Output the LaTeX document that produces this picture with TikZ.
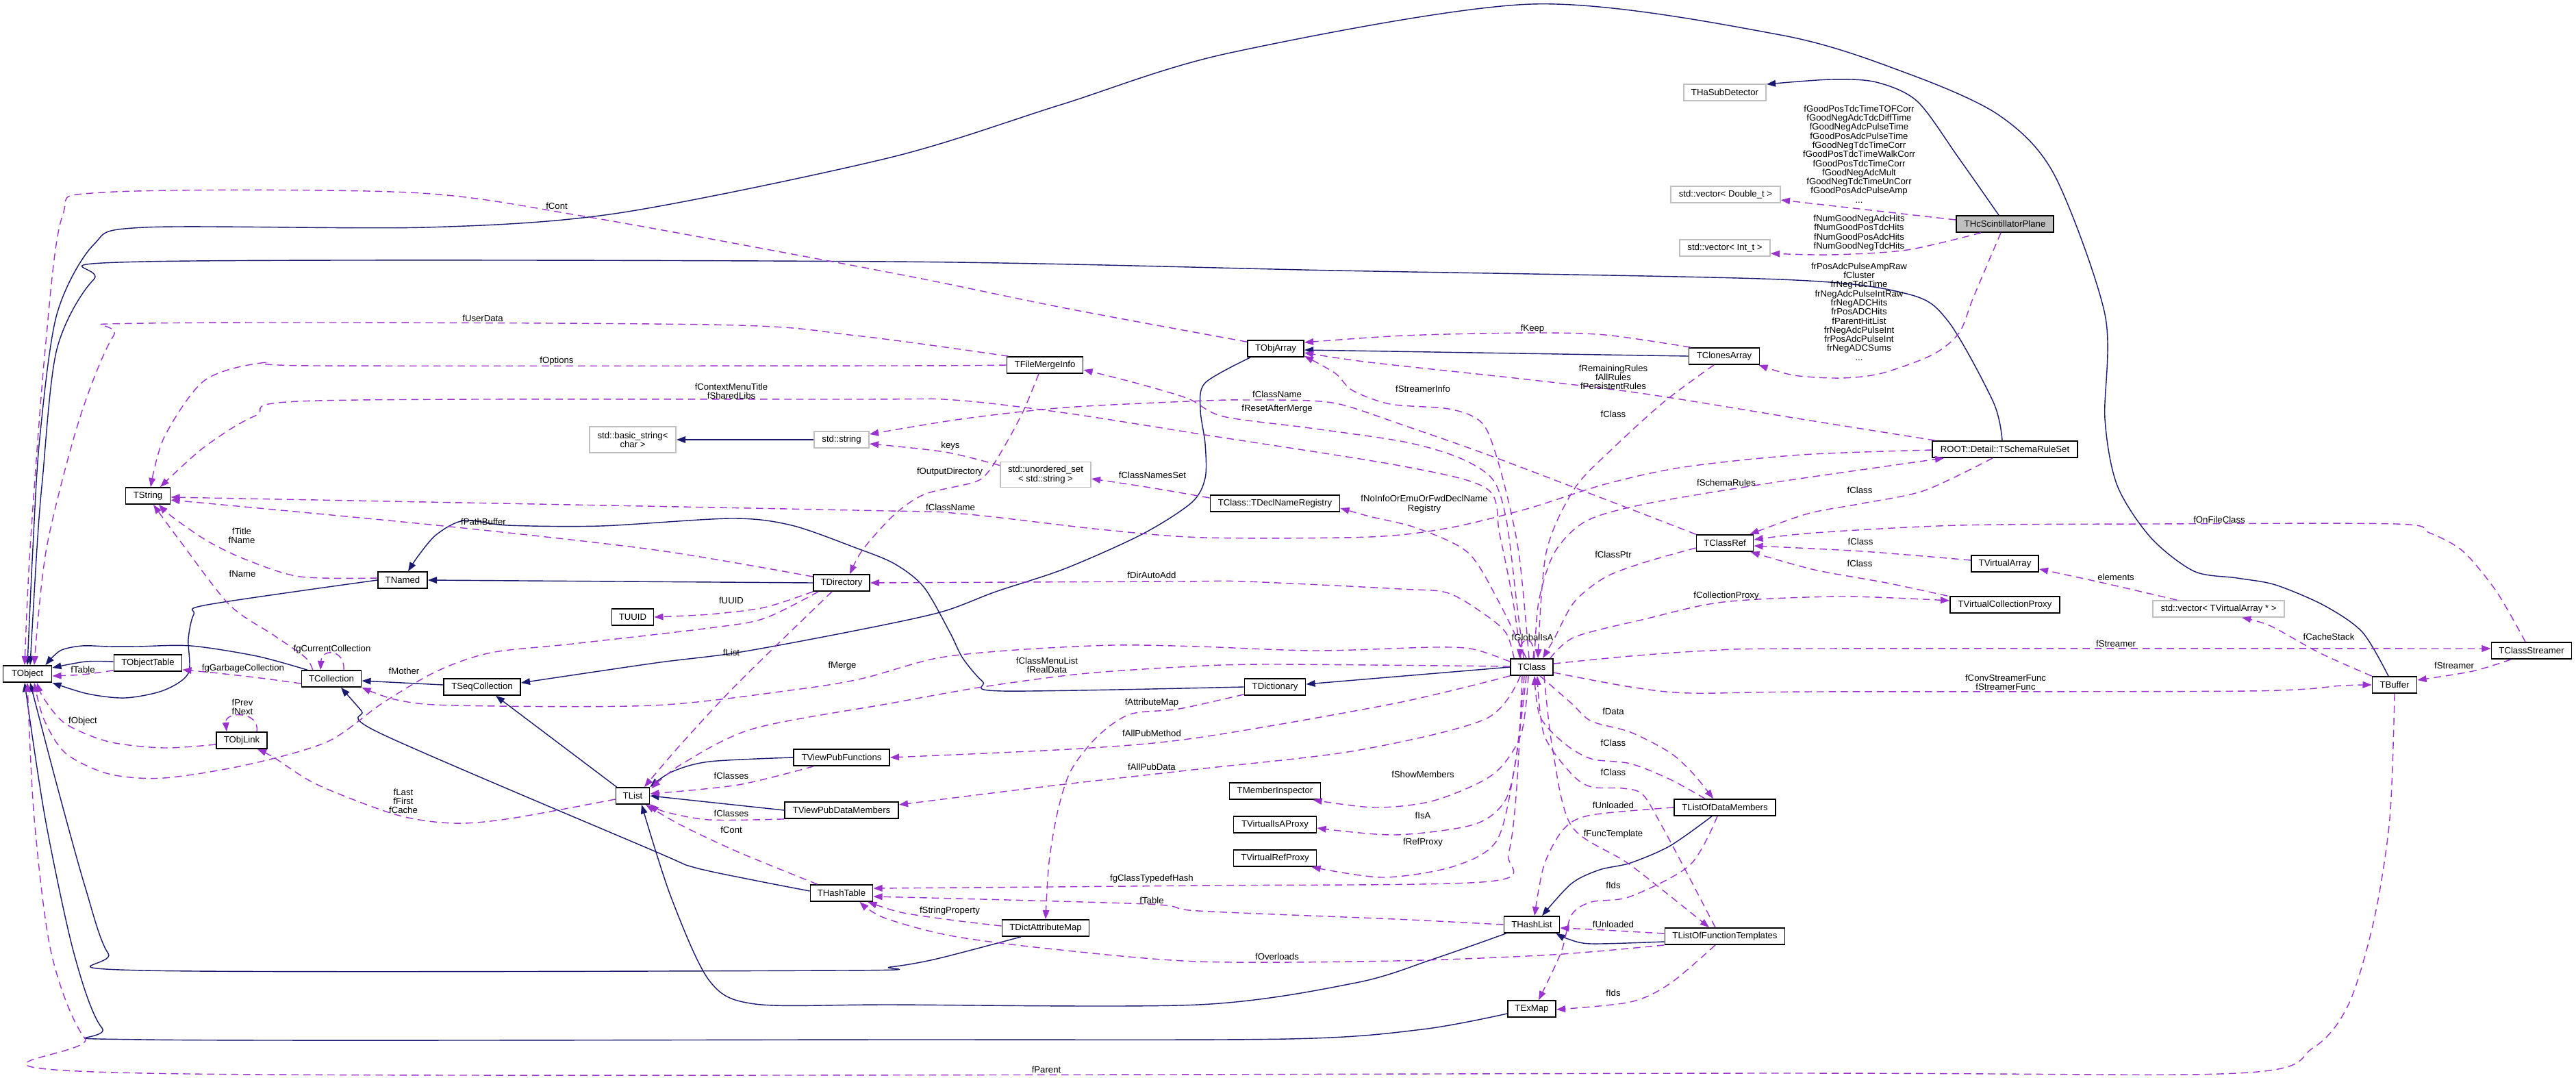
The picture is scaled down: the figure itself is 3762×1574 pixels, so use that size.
\documentclass[tikz,border=0pt]{standalone}
\usepackage{fontspec}
\setmainfont{Liberation Sans}
\usetikzlibrary{arrows.meta,calc}
\definecolor{navyc}{HTML}{191970}
\definecolor{purp}{HTML}{9A32CD}
\definecolor{lgray}{HTML}{BFBFBF}
\begin{document}
\begin{tikzpicture}[x=0.2mm,y=-0.2mm, font=\fontsize{7.5}{7.55}\selectfont,
 cls/.style={draw=black, line width=1pt, minimum height=4.8mm, inner sep=0pt, align=center},
 ext/.style={draw=lgray, line width=1pt, minimum height=4.8mm, inner sep=0pt, align=center},
 inh/.style={draw=navyc, line width=0.8pt, -{Triangle[length=7.5pt,width=5.5pt]}},
 dep/.style={draw=purp, line width=0.8pt, dash pattern=on 6pt off 4pt, -{Triangle[length=7.5pt,width=5.5pt]}},
 lbl/.style={inner sep=0pt, align=center}]
\fill[white] (0,0) rectangle (3762,1574);
\useasboundingbox (0,0) rectangle (3762,1574);
% nodes
\node[ext, minimum width=24mm] (thaSub) at (2519,135) {THaSubDetector};
\node[cls, fill=lgray, minimum width=28.4mm] (thcPlane) at (2928,327) {THcScintillatorPlane};
\node[ext, minimum width=32mm] (vecD) at (2520,284) {std::vector< Double\_t >};
\node[ext, minimum width=26.4mm] (vecI) at (2519,362) {std::vector< Int\_t >};
\node[cls, minimum width=16.4mm] (tobjarray) at (1863,509) {TObjArray};
\node[cls, minimum width=20.6mm] (tclones) at (2518,520) {TClonesArray};
\node[cls, minimum width=22.2mm] (tfmi) at (1526,533) {TFileMergeInfo};
\node[ext, minimum width=16mm] (stdstring) at (1229,642) {std::string};
\node[ext, minimum width=25.2mm, minimum height=7.6mm] (basicstr) at (924,642) {std::basic\_string<\\char >};
\node[ext, minimum width=26.4mm, minimum height=7.4mm] (uset) at (1527,693) {std::unordered\_set\\< std::string >};
\node[cls, minimum width=13mm] (tstring) at (216,724) {TString};
\node[cls, minimum width=37.8mm] (declreg) at (1862,735) {TClass::TDeclNameRegistry};
\node[cls, minimum width=42.4mm] (schema) at (2928,656) {ROOT::Detail::TSchemaRuleSet};
\node[cls, minimum width=16.6mm] (classref) at (2519,793) {TClassRef};
\node[cls, minimum width=19.6mm] (tvarray) at (2928,823) {TVirtualArray};
\node[cls, minimum width=32mm] (tvcp) at (2928,883) {TVirtualCollectionProxy};
\node[ext, minimum width=38.4mm] (vecVA) at (3240,889) {std::vector< TVirtualArray * >};
\node[cls, minimum width=23.4mm] (tcs) at (3697,950) {TClassStreamer};
\node[cls, minimum width=13mm] (tbuffer) at (3497,1000) {TBuffer};
\node[cls, minimum width=12.4mm] (tclass) at (2237,974) {TClass};
\node[cls, minimum width=17.8mm] (tdict) at (1862,1003) {TDictionary};
\node[cls, minimum width=14.4mm] (tnamed) at (588,847) {TNamed};
\node[cls, minimum width=16.4mm] (tdir) at (1229,851) {TDirectory};
\node[cls, minimum width=12.2mm] (tuuid) at (924,901) {TUUID};
\node[cls, minimum width=14.2mm] (tobject) at (40,984) {TObject};
\node[cls, minimum width=19.8mm] (tobjtable) at (216,968) {TObjectTable};
\node[cls, minimum width=17.4mm] (tcoll) at (484,991) {TCollection};
\node[cls, minimum width=22.4mm] (tseq) at (704,1003) {TSeqCollection};
\node[cls, minimum width=14.8mm] (tobjlink) at (353,1081) {TObjLink};
\node[cls, minimum width=9.8mm] (tlist) at (924,1162) {TList};
\node[cls, minimum width=28mm] (tvpf) at (1229,1106) {TViewPubFunctions};
\node[cls, minimum width=33.2mm] (tvpdm) at (1229,1183) {TViewPubDataMembers};
\node[cls, minimum width=18.2mm] (thashtable) at (1229,1304) {THashTable};
\node[cls, minimum width=26.6mm] (tmi) at (1862,1155) {TMemberInspector};
\node[cls, minimum width=24.2mm] (tvisa) at (1862,1204) {TVirtualIsAProxy};
\node[cls, minimum width=24.2mm] (tvref) at (1862,1253) {TVirtualRefProxy};
\node[cls, minimum width=29.6mm] (tlodm) at (2519,1179) {TListOfDataMembers};
\node[cls, minimum width=16.2mm] (thashlist) at (2237,1350) {THashList};
\node[cls, minimum width=35mm] (tloft) at (2519,1367) {TListOfFunctionTemplates};
\node[cls, minimum width=25.4mm] (tdam) at (1527,1355) {TDictAttributeMap};
\node[cls, minimum width=14mm] (texmap) at (2237,1473) {TExMap};
% inheritance
\draw[inh] plot[smooth] coordinates {($(thcPlane.north)+(-9,0)$) (2860,230) (2800,148) (2740,120) (2674,116) ($(thaSub.east)+(0,-12)$)};
\draw[inh] plot[smooth] coordinates {($(tbuffer.north)+(-9,0)$) (3450,923) (3394,884) (3323,854) (3267,844) (3204,834) (3141,785) (3092,709) (3074,612) (3074,459) (3000,255) (2919,168) (2785,107) (2600,51) (2237,6) (1797,77) (1549,153) (1300,230) (904,311) (622,332) (211,332) (137,357) (83,459) (58,640) (48,800) (tobject.north)};
\draw[inh] plot[smooth] coordinates {($(schema.north)+(-4,0)$) (2911,587) (2845,469) (2785,429) (2600,408) (1950,395) (1300,382) (211,382) (137,408) (83,510) (62,700) (54,800) ($(tobject.north)+(4,0)$)};
\draw[inh] plot[smooth] coordinates {(tnamed.west) (303,883) (283,897) (275,933) (275,983) (239,1008) (183,1019) (128,1013) (tobject.south east)};
\draw[inh] (tdir.west) -- (tnamed.east);
\draw[inh] plot[smooth] coordinates {($(tobjtable.west)+(0,-2)$) (125,966) ($(tobject.east)+(0,-9)$)};
\draw[inh] plot[smooth] coordinates {($(tcoll.north west)+(9,0)$) (375,958) (279,943) (200,944) (159,944) (120,943) (88,950) ($(tobject.north east)+(-10,0)$)};
\draw[inh] ($(tseq.west)+(0,-3)$) -- ($(tcoll.east)+(0,3)$);
\draw[inh] plot[smooth] coordinates {($(tobjarray.south west)+(5,0)$) (1760,559) (1753,598) (1760,648) (1760,698) (1740,734) (1668,780) (1556,830) (1454,864) (1373,894) (1243,922) (1076,953) (957,968) ($(tseq.east)+(0,-6)$)};
\draw[inh] (tclones.west) -- ($(tobjarray.east)+(0,2)$);
\draw[inh] ($(tlist.north west)+(2,0)$) -- ($(tseq.south)+(20,0)$);
\draw[inh] plot[smooth] coordinates {($(thashtable.west)+(0,-3)$) (1100,1285) (1012,1266) (954,1242) (556,1071) (528,1038) ($(tcoll.south)+(14,0)$)};
\draw[inh] plot[smooth] coordinates {(tdict.west) (1464,1009) (1435,995) (1406,961) (1387,923) (1349,857) (1306,823) (1250,800) (1156,767) (1068,757) (877,768) (741,767) (678,760) (638,780) (612,810) ($(tnamed.north)+(8,0)$)};
\draw[inh] (tclass.west) -- ($(tdict.east)+(0,-4)$);
\draw[inh] plot[smooth] coordinates {($(thashlist.south west)+(4,0)$) (2094,1400) (1980,1435) (1750,1467) (1300,1467) (1103,1466) (1036,1432) (980,1310) ($(tlist.south)+(13,0)$)};
\draw[inh] plot[smooth] coordinates {($(tlodm.south)+(-19,0)$) (2439,1235) (2381,1260) (2336,1270) (2295,1290) ($(thashlist.north)+(15,0)$)};
\draw[inh] plot[smooth] coordinates {($(tloft.west)+(0,8)$) (2324,1378) (2290,1371) ($(thashlist.south east)+(-6,0)$)};
\draw[inh] plot[smooth] coordinates {($(tdam.south)+(-36,0)$) (1368,1400) (1300,1412) (1227,1417) (211,1417) (158,1392) (124,1294) (83,1146) ($(tobject.south)+(4,0)$)};
\draw[inh] plot[smooth] coordinates {($(texmap.west)+(0,7)$) (2077,1503) (1880,1517) (1300,1518) (211,1518) (149,1501) (108,1392) (66,1195) ($(tobject.south)+(-4,0)$)};
\draw[inh] plot[smooth] coordinates {(tvpf.west) (1036,1112) (981,1127) (tlist.north east)};
\draw[inh] (tvpdm.west) -- (tlist.east);
\draw[inh] (stdstring.west) -- (basicstr.east);
% usage
\draw[dep] plot[smooth] coordinates {($(tobjarray.north west)+(0,3)$) (1556,450) (1300,398) (854,316) (597,281) (149,281) (91,316) (66,510) (44,800) ($(tobject.north)+(-4,0)$)};
\draw[dep] plot[smooth] coordinates {($(tfmi.north west)+(3,0)$) (1250,490) (1036,474) (211,472) (166,490) (116,612) (68,800) ($(tobject.north)+(10,0)$)};
\draw[dep] plot[smooth] coordinates {(tfmi.west) (1300,534) (464,534) (381,530) (298,556) (240,638) ($(tstring.north)+(4,0)$)};
\draw[dep] plot[smooth] coordinates {($(tclass.north)+(-16,0)$) (2210,880) (2190,780) (2172,714) (2050,681) (1760,635) (1556,603) (1393,584) (1250,583) (464,585) (373,607) (298,653) ($(tstring.north)+(18,0)$)};
\draw[dep] plot[smooth] coordinates {(classref.north west) (2344,729) (2170,663) (2050,621) (1964,592) (1913,585) (1827,584) (1760,585) (1556,595) (1403,612) ($(stdstring.east)+(0,-8)$)};
\draw[dep] plot[smooth] coordinates {($(tclass.north)+(-12,0)$) (2215,880) (2200,760) (2180,700) (2130,668) (2050,645) (1913,625) (1786,608) (1735,582) (1658,559) ($(tfmi.east)+(0,7)$)};
\draw[dep] plot[smooth] coordinates {($(uset.north west)+(0,6)$) (1380,660) ($(stdstring.east)+(0,6)$)};
\draw[dep] plot[smooth] coordinates {($(declreg.west)+(0,-8)$) (1680,712) ($(uset.east)+(0,6)$)};
\draw[dep] plot[smooth] coordinates {($(tclass.north)+(-8,0)$) (2189,879) (2144,807) (2069,771) (2000,754) ($(declreg.east)+(0,7)$)};
\draw[dep] plot[smooth] coordinates {($(tclass.north)+(-4,0)$) (2218,807) (2195,700) (2172,629) (2149,607) (2109,596) (2030,590) (1975,570) (1950,545) ($(tobjarray.south east)+(0,-2)$)};
\draw[dep] plot[smooth] coordinates {($(schema.north west)+(5,0)$) (2631,612) (2402,575) (2230,554) (2000,529) ($(tobjarray.east)+(0,6)$)};
\draw[dep] plot[smooth] coordinates {($(tclones.north west)+(3,0)$) (2344,489) (2230,486) (2050,490) ($(tobjarray.east)+(0,-9)$)};
\draw[dep] plot[smooth] coordinates {($(tclones.south)+(-15,0)$) (2431,586) (2356,654) (2299,714) (2258,807) ($(tclass.north)+(9,0)$)};
\draw[dep] plot[smooth] coordinates {($(schema.west)+(0,1)$) (2631,664) (2459,682) (2344,707) (2230,743) (2115,771) (2000,784) (1760,785) (1607,773) (1403,750) (1250,745) ($(tstring.east)+(0,2)$)};
\draw[dep] plot[smooth] coordinates {($(tclass.north)+(4,0)$) (2247,879) (2270,807) (2316,761) (2402,736) (2574,707) (2746,682) ($(schema.south west)+(18,0)$)};
\draw[dep] plot[smooth] coordinates {($(schema.south)+(-18,0)$) (2811,716) (2720,735) (2640,750) ($(classref.north east)+(-6,0)$)};
\draw[dep] plot[smooth] coordinates {($(tcs.north)+(-9,0)$) (3646,864) (3597,805) (3548,778) (3499,765) (3141,765) (2860,767) (2650,778) ($(classref.east)+(0,-5)$)};
\draw[dep] plot[smooth] coordinates {($(tvarray.west)+(0,-5)$) (2720,805) ($(classref.east)+(0,4)$)};
\draw[dep] plot[smooth] coordinates {($(tvcp.north west)+(-3,0)$) (2755,851) (2650,832) ($(classref.south east)+(-5,0)$)};
\draw[dep] plot[smooth] coordinates {($(tclass.north east)+(-5,0)$) (2300,930) (2402,904) (2517,879) (2689,871) ($(tvcp.west)+(0,-6)$)};
\draw[dep] plot[smooth] coordinates {($(classref.west)+(0,7)$) (2402,821) (2344,843) (2299,879) (2270,932) ($(tclass.north)+(16,0)$)};
\draw[dep] ($(tclass.north)+(2,0)$) .. controls (2243,928) and (2222,928) .. ($(tclass.north)+(-18,0)$);
\draw[dep] plot[smooth] coordinates {($(tclass.north west)+(6,0)$) (2200,925) (2171,899) (2115,866) (2046,860) (1817,849) (1715,849) (tdir.east)};
\draw[dep] plot[smooth] coordinates {($(tclass.west)+(0,-8)$) (2152,948) (2094,945) (1922,950) (1750,944) (1626,942) (1483,949) (1368,961) (1258,991) (1161,1007) (954,1030) (663,1030) (580,1022) (tcoll.south east)};
\draw[dep] plot[smooth] coordinates {($(tclass.west)+(0,-1)$) (1850,970) (1722,974) (1578,984) (1435,1003) (1300,1027) (1100,1064) (995,1116) ($(tlist.north east)+(2,2)$)};
\draw[dep] plot[smooth] coordinates {($(tdir.south)+(-14,0)$) (1078,997) (995,1086) ($(tlist.north)+(17,0)$)};
\draw[dep] plot[smooth] coordinates {(tdir.south west) (1116,887) (1036,897) (tuuid.east)};
\draw[dep] plot[smooth] coordinates {($(tdir.south west)+(8,0)$) (1116,903) (1036,917) (837,940) (717,953) (638,980) (558,1027) (478,1083) (359,1117) (239,1136) (159,1130) (96,1100) (64,1050) ($(tobject.south)+(10,0)$)};
\draw[dep] plot[smooth] coordinates {($(tdir.west)+(0,-9)$) (957,803) (638,767) ($(tstring.east)+(0,6)$)};
\draw[dep] plot[smooth] coordinates {($(tnamed.west)+(0,-3)$) (438,842) (359,817) (303,790) (252,755) ($(tstring.south)+(16,0)$)};
\draw[dep] plot[smooth] coordinates {($(tcoll.north west)+(17,0)$) (446,960) (399,927) (335,883) (263,790) ($(tstring.south)+(8,0)$)};
\draw[dep] ($(tcoll.north)+(18,0)$) .. controls (504,948) and (470,946) .. ($(tcoll.north)+(-16,0)$);
\draw[dep] plot[smooth] coordinates {($(tcoll.west)+(0,7)$) (380,990) (319,983) ($(tobjtable.south east)+(0,-3)$)};
\draw[dep] plot[smooth] coordinates {($(tobjtable.south west)+(0,-2)$) (120,985) ($(tobject.east)+(0,3)$)};
\draw[dep] plot[smooth] coordinates {($(tobjlink.west)+(0,6)$) (239,1092) (159,1083) (96,1057) (64,1020) ($(tobject.south)+(14,0)$)};
\draw[dep] ($(tobjlink.north)+(22,0)$) .. controls (380,1038) and (328,1038) .. ($(tobjlink.north)+(-22,0)$);
\draw[dep] plot[smooth] coordinates {($(tlist.west)+(0,5)$) (746,1195) (663,1202) (580,1190) (464,1146) (400,1106) ($(tobjlink.south east)+(-15,0)$)};
\draw[dep] plot[smooth] coordinates {($(tvpf.south west)+(30,0)$) (1078,1146) ($(tlist.east)+(0,-3)$)};
\draw[dep] plot[smooth] coordinates {(tvpdm.south west) (1036,1197) (970,1185) ($(tlist.south east)+(0,-1)$)};
\draw[dep] plot[smooth] coordinates {($(thashtable.north west)+(11,0)$) (1078,1244) (995,1205) ($(tlist.south)+(19,0)$)};
\draw[dep] plot[smooth] coordinates {(tclass.south west) (2037,1027) (1750,1077) (1578,1093) (tvpf.east)};
\draw[dep] plot[smooth] coordinates {($(tclass.south west)+(15,0)$) (2169,1050) (1980,1096) (1750,1123) (1530,1148) ($(tvpdm.east)+(0,-8)$)};
\draw[dep] plot[smooth] coordinates {($(tdict.south west)+(0,-2)$) (1722,1035) (1650,1043) (1602,1076) (1564,1125) (1545,1183) (1532,1259) (tdam.north)};
\draw[dep] plot[smooth] coordinates {($(tclass.south)+(-5,0)$) (2221,1073) (2180,1131) (2094,1169) (2008,1179) ($(tmi.south east)+(-12,0)$)};
\draw[dep] plot[smooth] coordinates {($(tclass.south)+(-11,0)$) (2215,1100) (2198,1169) (2152,1204) (2037,1219) ($(tvisa.east)+(0,5)$)};
\draw[dep] plot[smooth] coordinates {($(tclass.south)+(-8,0)$) (2212,1120) (2186,1227) (2123,1265) (2020,1281) ($(tvref.south east)+(-8,0)$)};
\draw[dep] plot[smooth] coordinates {($(tclass.south)+(-14,0)$) (2215,1150) (2203,1246) (2175,1287) (1750,1293) ($(thashtable.east)+(0,-7)$)};
\draw[dep] plot[smooth] coordinates {(thashlist.west) (2037,1342) (1750,1330) (1674,1320) ($(thashtable.east)+(0,5)$)};
\draw[dep] plot[smooth] coordinates {($(tdam.west)+(0,-3)$) (1387,1343) (1315,1332) ($(thashtable.south east)+(-8,0)$)};
\draw[dep] plot[smooth] coordinates {(tloft.south west) (2267,1394) (2037,1403) (1750,1404) (1530,1385) (1387,1366) (1291,1340) ($(thashtable.south east)+(-20,0)$)};
\draw[dep] plot[smooth] coordinates {($(tclass.south)+(12,0)$) (2295,1027) (2324,1053) (2381,1069) (2439,1099) (2473,1130) ($(tlodm.north)+(-17,0)$)};
\draw[dep] plot[smooth] coordinates {($(tlodm.north)+(-29,0)$) (2439,1138) (2381,1115) (2324,1108) (2284,1085) (2249,1046) ($(tclass.south)+(4,0)$)};
\draw[dep] plot[smooth] coordinates {($(tloft.north)+(-14,0)$) (2468,1283) (2427,1206) (2399,1160) (2370,1151) (2324,1149) (2295,1130) (2255,1073) ($(tclass.south)+(8,0)$)};
\draw[dep] plot[smooth] coordinates {(tlodm.west) (2324,1190) (2284,1210) (2255,1263) ($(thashlist.north)+(4,0)$)};
\draw[dep] plot[smooth] coordinates {($(tclass.south)+(18,0)$) (2267,1091) (2295,1206) (2381,1263) ($(tloft.north)+(-23,0)$)};
\draw[dep] plot[smooth] coordinates {($(tlodm.south)+(-11,0)$) (2468,1263) (2381,1309) (2324,1317) (2295,1336) (2280,1390) ($(texmap.north)+(10,0)$)};
\draw[dep] plot[smooth] coordinates {($(tloft.west)+(0,-4)$) (2324,1357) ($(thashlist.east)+(0,5)$)};
\draw[dep] plot[smooth] coordinates {($(tloft.south)+(-14,0)$) (2439,1436) (2381,1463) ($(texmap.east)+(0,1)$)};
\draw[dep] plot[smooth] coordinates {($(tclass.east)+(0,-5)$) (2381,958) (2496,950) (2650,947) ($(tcs.west)+(0,-3)$)};
\draw[dep] plot[smooth] coordinates {($(tclass.east)+(0,8)$) (2381,1003) (2468,1012) (2650,1010) (3281,1009) (3421,1001) (tbuffer.west)};
\draw[dep] plot[smooth] coordinates {($(tcs.south)+(-30,0)$) (3611,980) ($(tbuffer.east)+(0,-7)$)};
\draw[dep] plot[smooth] coordinates {(tbuffer.north west) (3387,953) (3316,914) ($(vecVA.south)+(34,0)$)};
\draw[dep] plot[smooth] coordinates {($(vecVA.north west)+(36,0)$) (3071,851) ($(tvarray.south east)+(0,-5)$)};
\draw[dep] plot[smooth] coordinates {(tbuffer.south) (3490,1195) (3467,1343) (3430,1466) (3378,1530) (3267,1567) (2600,1567) (211,1567) (124,1516) (75,1392) (50,1195) (tobject.south)};
\draw[dep] ($(thcPlane.west)+(0,-6)$) -- ($(vecD.east)+(0,8)$);
\draw[dep] plot[smooth] coordinates {($(thcPlane.south)+(-35,0)$) (2785,365) (2674,372) ($(vecI.east)+(0,8)$)};
\draw[dep] plot[smooth] coordinates {($(thcPlane.south)+(-6,0)$) (2882,434) (2861,486) (2822,518) (2748,545) (2689,552) (2620,548) ($(tclones.south east)+(-2,0)$)};
\draw[dep] plot[smooth] coordinates {($(tfmi.south)+(-9,0)$) (1495,599) (1469,648) (1444,688) (1423,704) (1352,721) (1311,747) (1276,783) (1255,810) ($(tdir.north)+(12,0)$)};
% labels
\node[lbl] (l1) at (813,301) {fCont};
\node[lbl] (l2) at (705,465) {fUserData};
\node[lbl] (l3) at (813,527) {fOptions};
\node[lbl] (l4) at (1068,571) {fContextMenuTitle\\fSharedLibs};
\node[lbl] (l5) at (1865,576) {fClassName};
\node[lbl] (l6) at (1865,597) {fResetAfterMerge};
\node[lbl] (l7) at (1388,651) {keys};
\node[lbl] (l8) at (1683,694) {fClassNamesSet};
\node[lbl] (l9) at (1387,689) {fOutputDirectory};
\node[lbl] (l10) at (2080,736) {fNoInfoOrEmuOrFwdDeclName\\Registry};
\node[lbl] (l11) at (2078,568) {fStreamerInfo};
\node[lbl] (l12) at (2356,551) {fRemainingRules\\fAllRules\\fPersistentRules};
\node[lbl] (l13) at (2238,480) {fKeep};
\node[lbl] (l14) at (2356,605) {fClass};
\node[lbl] (l15) at (1388,741) {fClassName};
\node[lbl] (l16) at (2521,705) {fSchemaRules};
\node[lbl] (l17) at (2716,716) {fClass};
\node[lbl] (l18) at (3241,759) {fOnFileClass};
\node[lbl] (l19) at (2717,791) {fClass};
\node[lbl] (l20) at (2716,823) {fClass};
\node[lbl] (l21) at (2521,870) {fCollectionProxy};
\node[lbl] (l22) at (2356,810) {fClassPtr};
\node[lbl] (l23) at (2238,931) {fGlobalIsA};
\node[lbl] (l24) at (1682,840) {fDirAutoAdd};
\node[lbl] (l25) at (1230,972) {fMerge};
\node[lbl] (l26) at (1529,971) {fClassMenuList\\fRealData};
\node[lbl] (l27) at (1068,953) {fList};
\node[lbl] (l28) at (1068,877) {fUUID};
\node[lbl] (l29) at (590,980) {fMother};
\node[lbl] (l30) at (706,762) {fPathBuffer};
\node[lbl] (l31) at (353,782) {fTitle\\fName};
\node[lbl] (l32) at (354,838) {fName};
\node[lbl] (l33) at (485,948) {fgCurrentCollection};
\node[lbl] (l34) at (355,976) {fgGarbageCollection};
\node[lbl] (l35) at (121,978) {fTable};
\node[lbl] (l36) at (121,1053) {fObject};
\node[lbl] (l37) at (354,1032) {fPrev\\fNext};
\node[lbl] (l38) at (589,1170) {fLast\\fFirst\\fCache};
\node[lbl] (l39) at (1068,1133) {fClasses};
\node[lbl] (l40) at (1068,1188) {fClasses};
\node[lbl] (l41) at (1068,1212) {fCont};
\node[lbl] (l42) at (1682,1071) {fAllPubMethod};
\node[lbl] (l43) at (1682,1120) {fAllPubData};
\node[lbl] (l44) at (1682,1026) {fAttributeMap};
\node[lbl] (l45) at (2078,1131) {fShowMembers};
\node[lbl] (l46) at (2078,1191) {fIsA};
\node[lbl] (l47) at (2078,1230) {fRefProxy};
\node[lbl] (l48) at (1682,1283) {fgClassTypedefHash};
\node[lbl] (l49) at (1682,1315) {fTable};
\node[lbl] (l50) at (1387,1330) {fStringProperty};
\node[lbl] (l51) at (1865,1397) {fOverloads};
\node[lbl] (l52) at (2356,1039) {fData};
\node[lbl] (l53) at (2356,1085) {fClass};
\node[lbl] (l54) at (2356,1128) {fClass};
\node[lbl] (l55) at (2356,1176) {fUnloaded};
\node[lbl] (l56) at (2356,1218) {fFuncTemplate};
\node[lbl] (l57) at (2356,1293) {fIds};
\node[lbl] (l58) at (2356,1350) {fUnloaded};
\node[lbl] (l59) at (2356,1450) {fIds};
\node[lbl] (l60) at (3090,940) {fStreamer};
\node[lbl] (l61) at (2929,996) {fConvStreamerFunc\\fStreamerFunc};
\node[lbl] (l62) at (3584,972) {fStreamer};
\node[lbl] (l63) at (3401,930) {fCacheStack};
\node[lbl] (l64) at (3090,843) {elements};
\node[lbl] (l65) at (1528,1562) {fParent};
\node[lbl] (l66) at (2715,225) {fGoodPosTdcTimeTOFCorr\\fGoodNegAdcTdcDiffTime\\fGoodNegAdcPulseTime\\fGoodPosAdcPulseTime\\fGoodNegTdcTimeCorr\\fGoodPosTdcTimeWalkCorr\\fGoodPosTdcTimeCorr\\fGoodNegAdcMult\\fGoodNegTdcTimeUnCorr\\fGoodPosAdcPulseAmp\\...};
\node[lbl] (l67) at (2715,340) {fNumGoodNegAdcHits\\fNumGoodPosTdcHits\\fNumGoodPosAdcHits\\fNumGoodNegTdcHits};
\node[lbl] (l68) at (2715,455) {frPosAdcPulseAmpRaw\\fCluster\\frNegTdcTime\\frNegAdcPulseIntRaw\\frNegADCHits\\frPosADCHits\\fParentHitList\\frNegAdcPulseInt\\frPosAdcPulseInt\\frNegADCSums\\...};
\end{tikzpicture}
\end{document}
